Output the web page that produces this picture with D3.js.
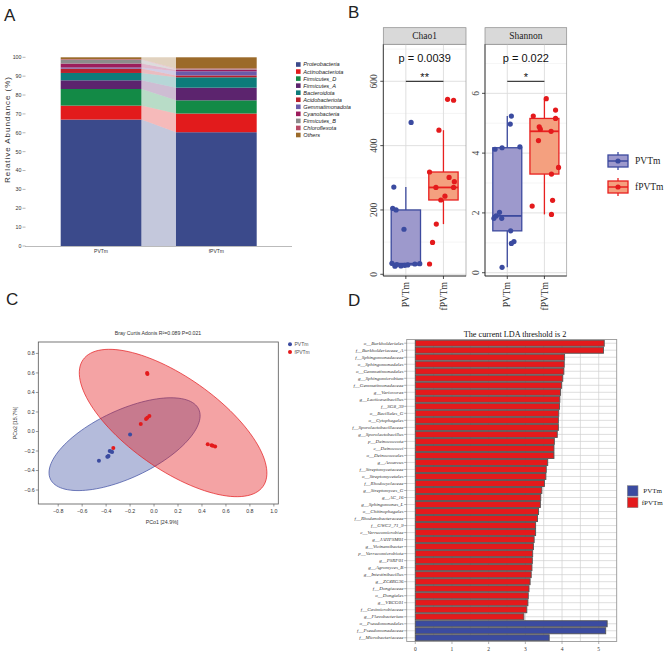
<!DOCTYPE html>
<html><head><meta charset="utf-8">
<script src="https://cdn.jsdelivr.net/npm/d3@7"></script>
<style>body{margin:0;background:#fff}svg{display:block}</style>
</head><body>
<svg id="c" width="669" height="654"></svg>
<script>
// ================= DATA =================
// Panel A
const phyla=["Proteobacteria","Actinobacteriota","Firmicutes_D","Firmicutes_A","Bacteroidota","Acidobacteriota","Gemmatimonadota","Cyanobacteria","Firmicutes_B","Chloroflexota","Others"];
const phylaColors=["#3B4A8B","#E21B1C","#138A46","#5C246E","#0D7B7A","#B8202D","#6A5BAA","#9C1C5C","#8C8C8C","#B84A66","#9B6A2A"];
const samplesA=["PVTm","fPVTm"];
const abundPVTm=[67.0,7.4,8.8,4.6,3.9,2.3,0.6,2.1,2.0,0.3,1.0];
const abundFPVTm=[60.3,9.9,7.0,6.7,5.5,1.0,2.2,0.7,0.3,0.5,5.9];
const ticksA=[0,10,20,30,40,50,60,70,80,90,100];

// Panel B
const groupsB=["PVTm","fPVTm"];
const chao1PVTm=[472,271,205,200,140,34,25,30,26,28,29,32,33];
const chao1PVTmJitter=[0.14,-0.32,-0.35,-0.26,-0.05,-0.37,-0.29,-0.24,-0.13,-0.03,0.05,0.24,0.37];
const chao1FPVTm=[544,541,448,318,301,288,270,270,243,231,156,99,32];
const chao1FPVTmJitter=[0.11,0.27,-0.12,-0.37,0.15,0.29,-0.20,0.27,0.04,-0.07,-0.19,-0.29,-0.37];
const shannonPVTm=[5.24,4.97,4.21,4.18,4.13,2.02,1.90,1.82,1.82,1.40,1.04,0.98,0.18];
const shannonPVTmJitter=[0.11,0.08,0.34,-0.14,-0.33,-0.21,-0.30,-0.36,-0.15,0.09,0.18,0.11,-0.14];
const shannonFPVTm=[5.82,5.44,5.24,5.16,4.88,4.80,4.73,4.42,3.52,3.30,2.42,2.23,1.95];
const shannonFPVTmJitter=[0.05,0.30,-0.30,0.30,-0.14,-0.11,0.18,-0.16,0.38,0.19,0.22,-0.33,0.19];
const chao1Ticks=[0,200,400,600], chao1Minor=[100,300,500,700];
const shannonTicks=[0,2,4,6], shannonMinor=[1,3,5,7];
const pLabels=["p = 0.0039","p = 0.022"], starLabels=["**","*"];

// Panel C
const pcoaTitle="Bray Curtis Adonis R²=0.089 P=0.021";
const pcoaPVTm=[[-0.46,-0.30],[-0.39,-0.26],[-0.38,-0.25],[-0.385,-0.255],[-0.37,-0.20],[-0.35,-0.21],[-0.36,-0.205],[-0.20,-0.03]];
const pcoaFPVTm=[[-0.058,0.60],[-0.055,0.59],[-0.039,0.158],[-0.056,0.14],[-0.067,0.128],[-0.111,0.077],[-0.34,-0.17],[0.448,-0.13],[0.48,-0.14],[0.49,-0.145],[0.51,-0.155]];
const ellipseGroups=["PVTm","fPVTm"];
const ellipseCenter=[[-0.246,-0.13],[0.159,0.087]];
const ellipseAxisU=[[0.619,0.358],[0.751,-0.649]];
const ellipseAxisV=[[0.120,-0.313],[-0.221,-0.386]];
const pcoaXTicks=[-0.8,-0.6,-0.4,-0.2,0,0.2,0.4,0.6,0.8,1.0];
const pcoaYTicks=[-0.6,-0.4,-0.2,0,0.2,0.4,0.6,0.8];

// Panel D
const taxa=["o__Burkholderiales","f__Burkholderiaceae_A","f__Sphingomonadaceae","o__Sphingomonadales","o__Gemmatimonadales","g__Sphingomicrobium","f__Gemmatimonadaceae","g__Variovorax","g__Lacticaseibacillus","f__SG8_39","o__Bacillales_G","o__Cytophagales","f__Sporolactobacillaceae","g__Sporolactobacillus","p__Deinococcota","c__Deinococci","o__Deinococcales","g__Azoarcus","f__Streptomycetaceae","o__Streptomycetales","f__Rhodocyclaceae","g__Streptomyces_G","g__AC_16","g__Sphingomonas_L","o__Chitinophagales","f__Rhodanobacteraceae","f__GWC2_71_9","c__Verrucomicrobiae","g__JAHFSM01","g__Vicinamibacter","p__Verrucomicrobiota","g__PSRF01","g__Agromyces_B","g__Intestinibacillus","g__ZC4RG36","f__Dongiaceae","o__Dongiales","g__VBCG01","f__Casimicrobiaceae","g__Flavobacterium","o__Pseudomonadales","f__Pseudomonadaceae","f__Microbacteriaceae"];
const ldaScores=[5.15,5.13,4.07,4.06,4.05,4.02,3.99,3.96,3.94,3.93,3.91,3.90,3.90,3.87,3.79,3.78,3.78,3.61,3.57,3.56,3.52,3.45,3.42,3.41,3.36,3.33,3.28,3.28,3.24,3.22,3.20,3.19,3.18,3.16,3.13,3.10,3.08,3.07,3.04,2.96,5.23,5.19,3.65];
const enrichedIn=[...Array(40).fill("fPVTm"),"PVTm","PVTm","PVTm"];
const ldaTicks=[0,1,2,3,4,5];
const ldaGrid=[0,0.5,1,1.5,2,2.5,3,3.5,4,4.5,5];

// ================= DRAW =================
const SANS="'Liberation Sans', Arial, sans-serif";
const SERIF="'Liberation Serif','Times New Roman', serif";
const BLUE="#3B4BA0", RED="#E41A1C";
const svg=d3.select("#c");

// panel letters
[["A",4,21],["B",348,17.5],["C",6,305],["D",348,306]].forEach(([t,x,y])=>
  svg.append("text").attr("x",x).attr("y",y).attr("font-family",SANS).attr("font-size",17).attr("fill","#222").text(t));

// ---------- Panel A ----------
(function(){
  const g=svg.append("g");
  const rows=samplesA.map((s,i)=>{const o={sample:s};const a=[abundPVTm,abundFPVTm][i];phyla.forEach((p,j)=>o[p]=a[j]);return o;});
  const series=d3.stack().keys(phyla)(rows);
  const x=d3.scaleBand().domain(samplesA).range([60.7,256.7]).paddingInner(0.3).paddingOuter(0);
  const y=d3.scaleLinear().domain([0,100]).range([246,57.3]);
  const bw=x.bandwidth();
  const col=d3.scaleOrdinal().domain(phyla).range(phylaColors);
  series.forEach(s=>{
    const x1=x(samplesA[0])+bw, x2=x(samplesA[1]);
    g.append("path").attr("d",`M${x1},${y(s[0][1])}L${x2},${y(s[1][1])}L${x2},${y(s[1][0])}L${x1},${y(s[0][0])}Z`)
      .attr("fill",col(s.key)).attr("opacity",0.3);
  });
  series.forEach(s=>{
    g.selectAll(null).data(s).join("rect")
      .attr("x",d=>x(d.data.sample)).attr("width",bw)
      .attr("y",d=>y(d[1])).attr("height",d=>y(d[0])-y(d[1]))
      .attr("fill",col(s.key));
  });
  g.append("line").attr("x1",25).attr("x2",292).attr("y1",246.5).attr("y2",246.5).attr("stroke","#aaa").attr("stroke-width",0.8);
  ticksA.forEach(t=>{
    g.append("line").attr("x1",22.5).attr("x2",25.5).attr("y1",y(t)).attr("y2",y(t)).attr("stroke","#888").attr("stroke-width",0.6);
    g.append("text").attr("x",21.5).attr("y",y(t)).attr("dy","0.35em").attr("text-anchor","end")
      .attr("font-family",SANS).attr("font-size",5.3).attr("fill","#333").text(t);
  });
  samplesA.forEach(s=>g.append("text").attr("x",x(s)+bw/2).attr("y",253).attr("text-anchor","middle")
    .attr("font-family",SANS).attr("font-size",5).attr("fill","#333").text(s));
  g.append("text").attr("transform","translate(9.5,130) rotate(-90)").attr("text-anchor","middle")
    .attr("font-family",SANS).attr("font-size",8).attr("fill","#333").attr("textLength",106).attr("lengthAdjust","spacing")
    .text("Relative Abundance (%)");
  phyla.forEach((p,i)=>{
    const cy=64.5+i*7.05;
    g.append("rect").attr("x",296).attr("y",cy-2.3).attr("width",4.6).attr("height",4.6).attr("fill",col(p));
    g.append("text").attr("x",303.3).attr("y",cy).attr("dy","0.35em").attr("font-family",SANS).attr("font-style","italic")
      .attr("font-size",5.6).attr("fill","#222").text(p);
  });
})();

// ---------- Panel B ----------
(function(){
  const g=svg.append("g");
  const top=44.3,bottom=276,stripTop=27.7;
  function stats(vals){
    const s=[...vals].sort(d3.ascending);
    const q1=d3.quantileSorted(s,0.25),med=d3.quantileSorted(s,0.5),q3=d3.quantileSorted(s,0.75),iqr=q3-q1;
    return {q1,med,q3,lo:d3.min(s.filter(v=>v>=q1-1.5*iqr)),hi:d3.max(s.filter(v=>v<=q3+1.5*iqr))};
  }
  const facets=[
    {name:"Chao1",vals:[chao1PVTm,chao1FPVTm],jit:[chao1PVTmJitter,chao1FPVTmJitter],ticks:chao1Ticks,minor:chao1Minor,domain:[-5.3,715],xr:[383.3,466]},
    {name:"Shannon",vals:[shannonPVTm,shannonFPVTm],jit:[shannonPVTmJitter,shannonFPVTmJitter],ticks:shannonTicks,minor:shannonMinor,domain:[-0.11,7.64],xr:[485,566.7]}
  ];
  const fills=["#9D99CC","#F4A07F"], strokes=["#3C4A9E","#E8201F"], pts=[BLUE,RED];
  facets.forEach((f,fi)=>{
    const x=d3.scalePoint().domain(groupsB).range(f.xr).padding(0.6);
    const y=d3.scaleLinear().domain(f.domain).range([bottom,top]);
    const step=x.step();
    const [x0,x1]=f.xr;
    g.append("rect").attr("x",x0).attr("y",stripTop).attr("width",x1-x0).attr("height",top-stripTop).attr("fill","#D9D9D9").attr("stroke","#8a8a8a").attr("stroke-width",0.7);
    g.append("text").attr("x",(x0+x1)/2).attr("y",(stripTop+top)/2).attr("dy","0.35em").attr("text-anchor","middle")
      .attr("font-family",SERIF).attr("font-size",9.5).attr("fill","#222").text(f.name);
    f.minor.forEach(t=>{ if(y(t)>top) g.append("line").attr("x1",x0).attr("x2",x1).attr("y1",y(t)).attr("y2",y(t)).attr("stroke","#EFEFEF").attr("stroke-width",0.6);});
    f.ticks.forEach(t=>g.append("line").attr("x1",x0).attr("x2",x1).attr("y1",y(t)).attr("y2",y(t)).attr("stroke","#DCDCDC").attr("stroke-width",0.9));
    groupsB.forEach(c=>g.append("line").attr("x1",x(c)).attr("x2",x(c)).attr("y1",top).attr("y2",bottom).attr("stroke","#DCDCDC").attr("stroke-width",0.9));
    groupsB.forEach((c,ci)=>{
      const s=stats(f.vals[ci]), cx=x(c), bw=step*0.78;
      g.append("line").attr("x1",cx).attr("x2",cx).attr("y1",y(s.hi)).attr("y2",y(s.q3)).attr("stroke",strokes[ci]).attr("stroke-width",1.3);
      g.append("line").attr("x1",cx).attr("x2",cx).attr("y1",y(s.q1)).attr("y2",y(s.lo)).attr("stroke",strokes[ci]).attr("stroke-width",1.3);
      g.append("rect").attr("x",cx-bw/2).attr("width",bw).attr("y",y(s.q3)).attr("height",y(s.q1)-y(s.q3))
        .attr("fill",fills[ci]).attr("stroke",strokes[ci]).attr("stroke-width",1.3);
      g.append("line").attr("x1",cx-bw/2).attr("x2",cx+bw/2).attr("y1",y(s.med)).attr("y2",y(s.med)).attr("stroke",strokes[ci]).attr("stroke-width",1.8);
      g.selectAll(null).data(f.vals[ci]).join("circle")
        .attr("cx",(d,i)=>cx+f.jit[ci][i]*step).attr("cy",d=>y(d)).attr("r",2.6).attr("fill",pts[ci]);
    });
    g.append("rect").attr("x",x0).attr("y",top).attr("width",x1-x0).attr("height",bottom-top).attr("fill","none").attr("stroke","#9a9a9a").attr("stroke-width",0.7);
    g.append("line").attr("x1",x0).attr("x2",x0).attr("y1",top).attr("y2",bottom).attr("stroke","#222").attr("stroke-width",0.8);
    g.append("line").attr("x1",x0).attr("x2",x1).attr("y1",bottom).attr("y2",bottom).attr("stroke","#222").attr("stroke-width",0.8);
    f.ticks.forEach(t=>{
      g.append("line").attr("x1",x0-3).attr("x2",x0).attr("y1",y(t)).attr("y2",y(t)).attr("stroke","#222").attr("stroke-width",0.8);
      g.append("text").attr("transform",`translate(${x0-6.5},${y(t)}) rotate(-90)`).attr("text-anchor","middle")
        .attr("font-family",SERIF).attr("font-size",9.5).attr("fill","#444").text(t);
    });
    groupsB.forEach(c=>{
      g.append("line").attr("x1",x(c)).attr("x2",x(c)).attr("y1",bottom).attr("y2",bottom+3).attr("stroke","#222").attr("stroke-width",0.8);
      g.append("text").attr("transform",`translate(${x(c)+3.2},${bottom+6}) rotate(-90)`).attr("text-anchor","end")
        .attr("font-family",SERIF).attr("font-size",9.5).attr("fill","#333").text(c);
    });
    const xa=x(groupsB[0]), xb=x(groupsB[1]);
    g.append("text").attr("x",(xa+xb)/2).attr("y",61.5).attr("text-anchor","middle").attr("font-family",SANS).attr("font-size",11).attr("fill","#111").text(pLabels[fi]);
    g.append("line").attr("x1",xa).attr("x2",xb).attr("y1",81.3).attr("y2",81.3).attr("stroke","#111").attr("stroke-width",1);
    g.append("text").attr("x",(xa+xb)/2).attr("y",80.5).attr("text-anchor","middle").attr("font-family",SANS).attr("font-size",11).attr("fill","#111").text(starLabels[fi]);
  });
  groupsB.forEach((c,ci)=>{
    const cy=161+ci*26, cx=618;
    g.append("line").attr("x1",cx).attr("x2",cx).attr("y1",cy-9).attr("y2",cy+9).attr("stroke",strokes[ci]).attr("stroke-width",1.3);
    g.append("rect").attr("x",cx-10).attr("y",cy-6).attr("width",20).attr("height",12).attr("fill",fills[ci]).attr("stroke",strokes[ci]).attr("stroke-width",1.3);
    g.append("line").attr("x1",cx-10).attr("x2",cx+10).attr("y1",cy).attr("y2",cy).attr("stroke",strokes[ci]).attr("stroke-width",1.5);
    g.append("circle").attr("cx",cx).attr("cy",cy).attr("r",2.6).attr("fill",pts[ci]);
    g.append("text").attr("x",635).attr("y",cy).attr("dy","0.33em").attr("font-family",SERIF).attr("font-size",9.5).attr("fill","#222").text(c);
  });
})();

// ---------- Panel C ----------
(function(){
  const g=svg.append("g");
  const L=38.3,R=278.3,T=342,B=504;
  const x=d3.scaleLinear().domain([-0.966,1.037]).range([L,R]);
  const y=d3.scaleLinear().domain([-0.743,0.917]).range([B,T]);
  const cols=[BLUE,RED], fills=["rgba(58,75,160,0.38)","rgba(228,26,28,0.40)"];
  ellipseGroups.forEach((gname,i)=>{
    const pts=d3.range(0,361,3).map(a=>{const t=a*Math.PI/180;
      return [x(ellipseCenter[i][0]+ellipseAxisU[i][0]*Math.cos(t)+ellipseAxisV[i][0]*Math.sin(t)),
              y(ellipseCenter[i][1]+ellipseAxisU[i][1]*Math.cos(t)+ellipseAxisV[i][1]*Math.sin(t))];});
    g.append("path").attr("d",d3.line()(pts)+"Z").attr("fill",fills[i]).attr("stroke",cols[i]).attr("stroke-width",0.7);
  });
  [pcoaPVTm,pcoaFPVTm].forEach((arr,i)=>g.selectAll(null).data(arr).join("circle")
    .attr("cx",d=>x(d[0])).attr("cy",d=>y(d[1])).attr("r",2).attr("fill",cols[i]));
  g.append("rect").attr("x",L).attr("y",T).attr("width",R-L).attr("height",B-T).attr("fill","none").attr("stroke","#555").attr("stroke-width",0.8);
  pcoaXTicks.forEach(t=>{
    g.append("line").attr("x1",x(t)).attr("x2",x(t)).attr("y1",B).attr("y2",B+2.5).attr("stroke","#555").attr("stroke-width",0.6);
    g.append("text").attr("x",x(t)).attr("y",512.5).attr("text-anchor","middle").attr("font-family",SANS).attr("font-size",5.3).attr("fill","#333").text(d3.format(".1f")(t));
  });
  pcoaYTicks.forEach(t=>{
    g.append("line").attr("x1",L-2.5).attr("x2",L).attr("y1",y(t)).attr("y2",y(t)).attr("stroke","#555").attr("stroke-width",0.6);
    g.append("text").attr("x",L-3.5).attr("y",y(t)).attr("dy","0.35em").attr("text-anchor","end").attr("font-family",SANS).attr("font-size",5.3).attr("fill","#333").text(d3.format(".1f")(t));
  });
  g.append("text").attr("x",162).attr("y",524).attr("text-anchor","middle").attr("font-family",SANS).attr("font-size",5.3).attr("fill","#333").text("PCo1 [24.9%]");
  g.append("text").attr("transform","translate(17,423) rotate(-90)").attr("text-anchor","middle").attr("font-family",SANS).attr("font-size",5.3).attr("fill","#333").text("PCo2 [15.7%]");
  g.append("text").attr("x",158).attr("y",334.5).attr("text-anchor","middle").attr("font-family",SANS).attr("font-size",5.2).attr("fill","#333").text(pcoaTitle);
  ellipseGroups.forEach((c,i)=>{
    g.append("circle").attr("cx",290).attr("cy",344.3+i*7.7).attr("r",2).attr("fill",cols[i]);
    g.append("text").attr("x",294.5).attr("y",344.3+i*7.7).attr("dy","0.35em").attr("font-family",SANS).attr("font-size",5).attr("fill","#555").text(c);
  });
})();

// ---------- Panel D ----------
(function(){
  const g=svg.append("g");
  const L=406.7,R=616.7,T=339.5,B=641.5;
  const x=d3.scaleLinear().domain([-0.234,5.49]).range([L,R]);
  const y=d3.scaleBand().domain(taxa).range([T,B]).paddingInner(0.14).paddingOuter(0.1);
  const col=d3.scaleOrdinal().domain(["PVTm","fPVTm"]).range([BLUE,RED]);
  g.append("rect").attr("x",L).attr("y",T).attr("width",R-L).attr("height",B-T).attr("fill","#fff");
  ldaGrid.forEach(t=>g.append("line").attr("x1",x(t)).attr("x2",x(t)).attr("y1",T).attr("y2",B).attr("stroke","#D0D0D0").attr("stroke-width",0.7));
  taxa.forEach(t=>g.append("line").attr("x1",L).attr("x2",R).attr("y1",y(t)+y.bandwidth()/2).attr("y2",y(t)+y.bandwidth()/2).attr("stroke","#D0D0D0").attr("stroke-width",0.7));
  g.selectAll(null).data(taxa).join("rect")
    .attr("x",x(0)).attr("y",d=>y(d)).attr("height",y.bandwidth())
    .attr("width",(d,i)=>x(ldaScores[i])-x(0)).attr("fill",(d,i)=>col(enrichedIn[i]))
    .attr("stroke","#555").attr("stroke-width",0.9);
  g.append("rect").attr("x",L).attr("y",T).attr("width",R-L).attr("height",B-T).attr("fill","none").attr("stroke","#999").attr("stroke-width",0.9);
  taxa.forEach(t=>{
    const cy=y(t)+y.bandwidth()/2;
    g.append("line").attr("x1",L-2.5).attr("x2",L).attr("y1",cy).attr("y2",cy).attr("stroke","#666").attr("stroke-width",0.5);
    g.append("text").attr("x",L-3.3).attr("y",cy).attr("dy","0.33em").attr("text-anchor","end").attr("font-family",SERIF)
      .attr("font-style","italic").attr("font-size",5).attr("fill","#333").text(t);
  });
  ldaTicks.forEach(t=>{
    g.append("line").attr("x1",x(t)).attr("x2",x(t)).attr("y1",B).attr("y2",B+2.5).attr("stroke","#666").attr("stroke-width",0.5);
    g.append("text").attr("x",x(t)).attr("y",650.5).attr("text-anchor","middle").attr("font-family",SERIF).attr("font-size",5.5).attr("fill","#333").text(t);
  });
  g.append("text").attr("x",515).attr("y",337).attr("text-anchor","middle").attr("font-family",SERIF).attr("font-size",8.2).attr("fill","#111").text("The current LDA threshold is 2");
  ["PVTm","fPVTm"].forEach((c,i)=>{
    g.append("rect").attr("x",627.3).attr("y",485.7+i*11.6).attr("width",10.7).attr("height",10.4).attr("fill",col(c)).attr("stroke","#888").attr("stroke-width",0.6);
    g.append("text").attr("x",i?641.7:643.3).attr("y",491+i*11.2).attr("dy","0.33em").attr("font-family",SERIF).attr("font-size",7).attr("fill","#222").text(c);
  });
})();
</script>
</body></html>
